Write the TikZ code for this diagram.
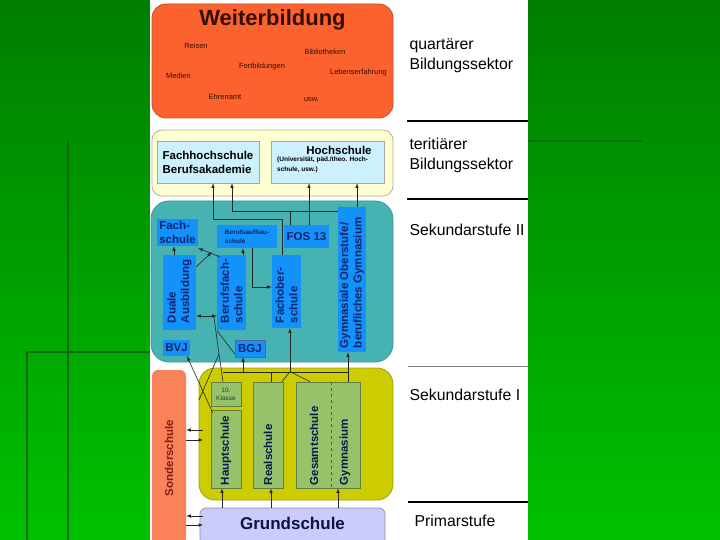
\documentclass[tikz,border=0pt]{standalone}
\usepackage{fontspec}
\setmainfont{Liberation Sans}
\usepackage{xcolor}
\usepackage{tikz}
\definecolor{slidegreenA}{RGB}{0,126,0}
\definecolor{slidegreenB}{RGB}{0,192,0}
\definecolor{decogreen}{RGB}{10,108,10}
\definecolor{weiterorange}{RGB}{252,98,48}
\definecolor{weiterbrown}{RGB}{50,15,0}
\definecolor{tertyellow}{RGB}{255,255,210}
\definecolor{hochcyan}{RGB}{204,240,252}
\definecolor{sekteal}{RGB}{70,178,178}
\definecolor{sekblue}{RGB}{18,146,250}
\definecolor{seknavy}{RGB}{15,35,110}
\definecolor{sekolive}{RGB}{204,204,0}
\definecolor{sekgreen}{RGB}{150,195,105}
\definecolor{sondersalmon}{RGB}{250,130,90}
\definecolor{sonderred}{RGB}{130,30,20}
\definecolor{grundlila}{RGB}{204,204,250}

\begin{document}
\begin{tikzpicture}[x=1pt, y=-1pt, >=latex,
  conn/.style={->, line width=0.6pt, black!85},
  link/.style={line width=0.6pt, black!85},
  area/.style={draw, rounded corners=14pt, line width=0.8pt},
  bluebox/.style={fill=sekblue, inner sep=0pt, text=seknavy, font=\fontsize{11.5}{13.5}\selectfont\bfseries},
  greenbox/.style={fill=sekgreen, draw=sekgreen!65!black, line width=0.7pt, inner sep=0pt},
  vtext/.style={rotate=90, anchor=west, align=left, inner sep=0pt},
  word/.style={text=weiterbrown, font=\fontsize{7.5}{9}\selectfont},
  sektor/.style={anchor=west, align=left, font=\fontsize{15.8}{20}\selectfont}]
\useasboundingbox (0,0) rectangle (720,540);

% slide background
\fill[top color=slidegreenA, bottom color=slidegreenB] (0,0) rectangle (150,540);
\fill[top color=slidegreenA, bottom color=slidegreenB] (528,0) rectangle (720,540);
\fill[white] (150,0) rectangle (528,540);
\draw[decogreen, line width=1.6pt] (68,140) -- (68,540);
\draw[decogreen, line width=1.2pt] (27,352) -- (27,540);
\draw[decogreen, line width=1.2pt] (27,352) -- (150,352);
\draw[decogreen, line width=1.6pt] (528,141) -- (642,141);

% Weiterbildung
\node[area, fill=weiterorange, draw=weiterorange!80!black, minimum width=241pt, minimum height=114pt] (weiter) at (272.5,61) {};
\node[text=weiterbrown, font=\fontsize{22}{24}\selectfont\bfseries] (weiter-t) at (272.5,20) {Weiterbildung};
\node[word] (reisen) at (196,46) {Reisen};
\node[word] (biblio) at (325,52) {Bibliotheken};
\node[word] (fortb) at (262,67) {Fortbildungen};
\node[word] (medien) at (178.5,76) {Medien};
\node[word] (lebens) at (358.5,73) {Lebenserfahrung};
\node[word] (ehren) at (225,97) {Ehrenamt};
\node[word] (usw) at (311.5,100) {usw.};

% tertiaerer Sektor
\node[area, rounded corners=10pt, fill=tertyellow, draw=tertyellow!70!black, minimum width=241pt, minimum height=66pt] (tert) at (272.5,163) {};
\node[fill=hochcyan, draw=gray!70, minimum width=102pt, minimum height=42pt, align=left,
  font=\fontsize{11.5}{14}\selectfont\bfseries] (fhs) at (208,162) {Fachhochschule\\Berufsakademie};
\node[fill=hochcyan, draw=gray!70, minimum width=113pt, minimum height=42pt] (hs) at (327.5,162) {};
\node[font=\fontsize{11.5}{13}\selectfont\bfseries] (hs-t) at (339,150) {Hochschule};
\node[align=left, anchor=north west, inner sep=0pt, font=\fontsize{6.5}{10}\selectfont\bfseries] (hs-s) at (277,157)
  {(Universität, päd./theo. Hoch-\\schule, usw.)};

% Sekundarstufe II
\node[area, rounded corners=18pt, fill=sekteal, draw=sekteal!85!black, minimum width=242pt, minimum height=161pt] (sek2) at (272,281.5) {};
\node[bluebox, minimum width=41pt, minimum height=27pt, align=left] (fachschule) at (177.5,232.5) {Fach-\\schule};
\node[bluebox, minimum width=60pt, minimum height=23pt, align=left, font=\fontsize{6.5}{9}\selectfont\bfseries] (bas) at (247,236.5) {Berufsaufbau-\\schule};
\node[bluebox, minimum width=45pt, minimum height=23pt] (fos) at (306.5,236.5) {FOS 13};
\node[bluebox, minimum width=28pt, minimum height=145pt] (gymo) at (352,279.5) {};
\node[bluebox, vtext] (gymo-t) at ([yshift=4pt]gymo.south) {Gymnasiale Oberstufe/\\berufliches Gymnasium};
\node[bluebox, minimum width=33pt, minimum height=75pt] (duale) at (179.5,292.5) {};
\node[bluebox, vtext] (duale-t) at ([yshift=7pt]duale.south) {Duale\\Ausbildung};
\node[bluebox, minimum width=29pt, minimum height=75pt] (bfs) at (231.5,292.5) {};
\node[bluebox, vtext] (bfs-t) at ([yshift=7pt]bfs.south) {Berufsfach-\\schule};
\node[bluebox, minimum width=29pt, minimum height=73pt] (fobs) at (286.5,291.5) {};
\node[bluebox, vtext] (fobs-t) at ([yshift=5pt]fobs.south) {Fachober-\\schule};
\node[bluebox, minimum width=27pt, minimum height=16pt] (bvj) at (176.5,348) {BVJ};
\node[bluebox, draw=seknavy!70, minimum width=30pt, minimum height=17pt] (bgj) at (250,348.5) {BGJ};

% Sekundarstufe I
\node[area, rounded corners=16pt, fill=sekolive, draw=sekolive!80!black, minimum width=194pt, minimum height=132pt] (sek1) at (296,434) {};
\node[greenbox, align=center, font=\fontsize{6.5}{8}\selectfont, text=black!80, minimum width=30pt, minimum height=24pt] (klasse10) at (226,394) {10.\\Klasse};
\node[greenbox, minimum width=30pt, minimum height=78pt] (haupt) at (226,449) {};
\node[greenbox, minimum width=30pt, minimum height=106pt] (real) at (268,435) {};
\node[greenbox, minimum width=64pt, minimum height=106pt] (gesamt) at (328,435) {};
\draw[sekgreen!55!black, dashed, line width=0.6pt] ([xshift=3pt]gesamt.north) -- ([xshift=3pt]gesamt.south);
\tikzset{sekitext/.style={vtext, text=seknavy!70!black, font=\fontsize{11.5}{13.5}\selectfont\bfseries}}
\node[sekitext] (haupt-t) at ([yshift=3pt]haupt.south) {Hauptschule};
\node[sekitext] (real-t) at ([yshift=3pt]real.south) {Realschule};
\node[sekitext] (gesamt-t) at ([xshift=-14pt,yshift=3pt]gesamt.south) {Gesamtschule};
\node[sekitext] (gym-t) at ([xshift=17pt,yshift=3pt]gesamt.south) {Gymnasium};

% Sonderschule, Grundschule
\node[fill=sondersalmon, rounded corners=6pt, minimum width=34pt, minimum height=175pt] (sonder) at (169,457.5) {};
\node[rotate=90, text=sonderred, font=\fontsize{11.5}{13.5}\selectfont\bfseries] (sonder-t) at (169,458) {Sonderschule};
\node[fill=grundlila, draw=grundlila!70!black, rounded corners=6pt, line width=0.7pt, minimum width=185pt, minimum height=37pt] (grund) at (292.5,526.5) {};
\node[text=seknavy!60!black, font=\fontsize{17}{20}\selectfont\bfseries] (grund-t) at (292.5,523.5) {Grundschule};

% Sektoren
\node[sektor] (quart) at (406,56) {quartärer\\Bildungssektor};
\node[sektor] (terti) at (406,155) {teritiärer\\Bildungssektor};
\node[sektor] (sekii) at (406,230) {Sekundarstufe II};
\node[sektor] (seki) at (406,395) {Sekundarstufe I};
\node[sektor] (prim) at (411,521) {Primarstufe};
\draw[line width=1.8pt] (407,121) -- (528,121);
\draw[line width=1.3pt] (407,199) -- (528,199);
\draw[line width=0.7pt, gray] (408,366) -- (528,366);
\draw[line width=1.3pt] (408,502) -- (528,502);

% Sek II -> tertiaer
\draw[conn] ([xshift=-4.5pt]fobs.north) -- ++(0,-35) -| ([xshift=5pt]fhs.south);
\draw[conn] ([yshift=-5pt]gymo.north west) -| ([xshift=24pt]fhs.south);
\draw[link] ([xshift=-16.5pt]fos.north) -- ++(0,-13);
\draw[conn] ([xshift=2.5pt]fos.north) -- ([xshift=-18.5pt]hs.south);
\draw[conn] ([xshift=5pt]gymo.north) -- ([xshift=29.5pt]hs.south);

% innerhalb Sek II
\draw[conn] ([xshift=-5.5pt]duale.north) -- ([xshift=-3.5pt]fachschule.south);
\draw[conn] ([xshift=11.5pt]bfs.north) -- ([xshift=-4pt]bas.south);
\draw[conn] ([yshift=-12pt]duale.north east) -- ([xshift=-5pt,yshift=-4pt]bas.south west);
\draw[conn] ([xshift=3pt,yshift=-2pt]bfs.north west) -- ([yshift=-2pt]fachschule.south east);
\draw[conn] ([xshift=5pt]bas.south) |- ([yshift=4.5pt]fobs.west);
\draw[<->, link] ([yshift=-23.5pt]duale.east) -- ([yshift=-23.5pt]bfs.west);

% Hauptschule / 10. Klasse -> Sek II
\coordinate (knick) at (219,354);
\draw[link] ([xshift=-3pt,yshift=-23.5pt]bfs.west) -- (knick) -- ([xshift=-3pt]klasse10.north);
\draw[link] (knick) -- (199,400);
\draw[link] ([xshift=-2pt]klasse10.north) ++(-7,-51) -- ([yshift=-5.5pt]bgj.west);
\draw[conn] ([xshift=2pt,yshift=-3pt]haupt.north west) -- ([xshift=10.5pt]bvj.south);

% Sek I -> Sek II
\draw[link] ([xshift=-3pt]klasse10.north) ++(0,-9) -| ([xshift=20pt]gesamt.north);
\draw[conn] ([xshift=-7pt]bgj.south) ++(0,16) -- ([xshift=-7pt]bgj.south);
\draw[link] ([xshift=3pt]real.north) -- ++(0,-9);
\draw[conn] ([xshift=3.5pt]fobs.south) ++(0,45) -- ([xshift=3.5pt]fobs.south);
\draw[link] ([xshift=14pt]real.north) -- ++(8,-10) -- ([xshift=-18pt]gesamt.north);
\draw[conn] ([xshift=-4pt]gymo.south) ++(0,21) -- ([xshift=-4pt]gymo.south);

% Grundschule -> Sek I
\draw[conn] ([xshift=-70.5pt]grund.north) -- ([xshift=-4pt]haupt.south);
\draw[conn] ([xshift=-21.5pt]grund.north) -- ([xshift=3pt]real.south);
\draw[conn] ([xshift=45.5pt]grund.north) -- ([xshift=10pt]gesamt.south);

% Sonderschule
\draw[<-, link] ([yshift=27.5pt]sonder.east) -- ++(17,0);
\draw[->, link] ([yshift=17.5pt]sonder.east) -- ++(17,0);
\draw[<-, link] ([yshift=-58.5pt]sonder.east) -- ++(17,0);
\draw[->, link] ([yshift=-67.5pt]sonder.east) -- ++(17,0);
\end{tikzpicture}
\end{document}
